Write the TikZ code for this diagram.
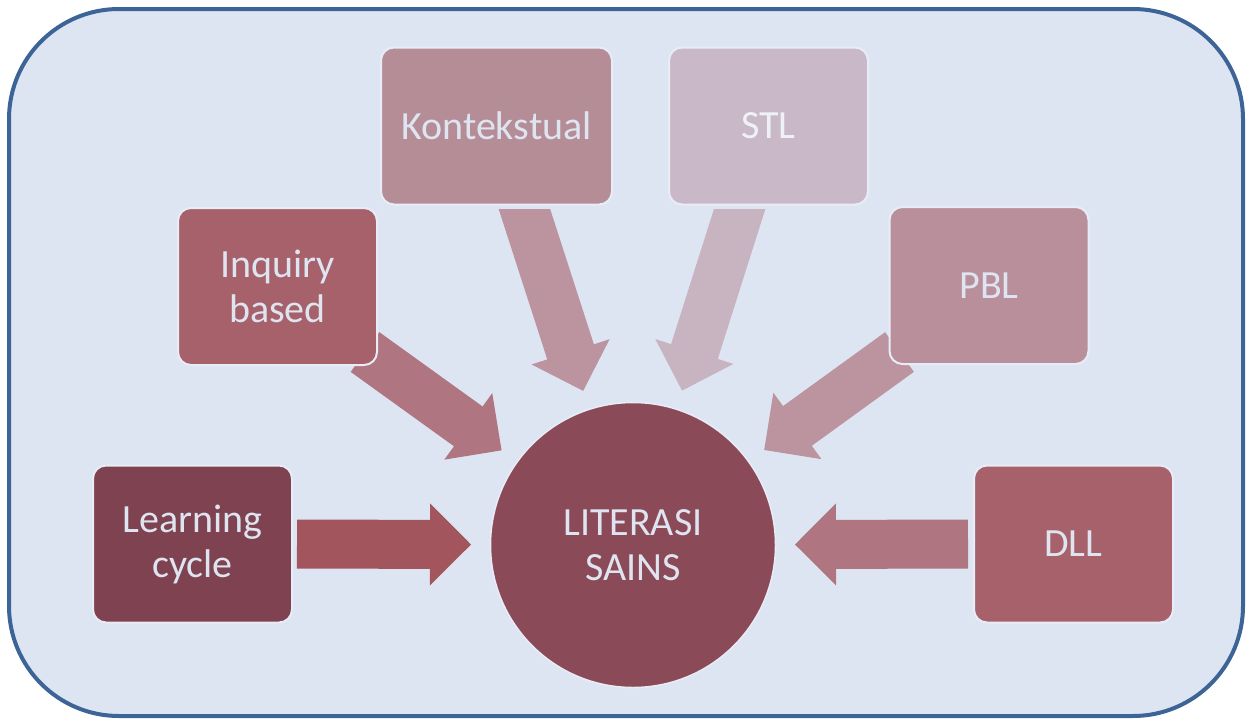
\documentclass[tikz,border=0pt]{standalone}
\usepackage{fontspec}
\setmainfont{Carlito}
\usetikzlibrary{calc}

\definecolor{frameblue}{HTML}{3D6496}
\definecolor{panel}{HTML}{DEE5F2}
\definecolor{rim}{HTML}{E8ECF6}
\definecolor{ink}{HTML}{DFE4F1}
\definecolor{inklight}{HTML}{EEF1F8}
\definecolor{cLC}{HTML}{7E4250}
\definecolor{cIB}{HTML}{A6616B}
\definecolor{cKT}{HTML}{B58D97}
\definecolor{cST}{HTML}{C9B9C8}
\definecolor{cPB}{HTML}{B88F9A}
\definecolor{cDL}{HTML}{A6616B}
\definecolor{cCI}{HTML}{8B4A57}
\definecolor{aLC}{HTML}{A3555E}
\definecolor{aIB}{HTML}{AF7580}
\definecolor{aKT}{HTML}{BB949F}
\definecolor{aST}{HTML}{C8B3C1}
\definecolor{aPB}{HTML}{BB949F}
\definecolor{aDL}{HTML}{AF7580}

\pgfdeclarelayer{panellayer}
\pgfdeclarelayer{arrowlayer}
\pgfsetlayers{panellayer,arrowlayer,main}

% block arrow from tail coordinate #1 to tip coordinate #2, filled with #3
\newcommand\blockarrow[3]{%
  \coordinate (hb) at ($(#2)!41pt!(#1)$);
  \fill[#3] ($(#1)!24.5pt!90:(#2)$) -- ($(hb)!24.5pt!90:(#2)$)
    -- ($(hb)!41pt!90:(#2)$) -- (#2) -- ($(hb)!41pt!-90:(#2)$)
    -- ($(hb)!24.5pt!-90:(#2)$) -- ($(#1)!24.5pt!-90:(#2)$) -- cycle;
}

\begin{document}
\begin{tikzpicture}[x=1pt,y=-1pt,
  card/.style={draw=rim, line width=2pt, rounded corners=13pt, text=ink,
    align=center, font=\fontsize{40}{45}\selectfont,
    minimum width=199pt, minimum height=157pt, inner sep=0pt},
  hub/.style={circle, draw=rim, line width=1.5pt, fill=cCI, text=ink,
    align=center, font=\fontsize{40}{45}\selectfont,
    minimum size=285pt, inner sep=0pt}]
\useasboundingbox (0,0) rectangle (1252,720);

\begin{pgfonlayer}{panellayer}
  \draw[line width=4pt, draw=frameblue, fill=panel, rounded corners=110pt]
    (9,9) rectangle (1243,716);
\end{pgfonlayer}

% the approaches
\node[card, fill=cLC] (lc) at (192.5,544) {Learning\\cycle};
\node[card, fill=cIB] (ib) at (277.5,286.5) {Inquiry\\based};
\node[card, fill=cKT, minimum width=231pt] (kt) at (496.5,126) {Kontekstual};
\node[card, fill=cST, text=inklight] (stl) at (768.5,126) {STL};
\node[card, fill=cPB, text depth=0pt] (pbl) at (989,285.5) {PBL};
\node[card, fill=cDL, text depth=0pt] (dll) at (1073.5,544) {DLL};

% the goal
\node[hub] (lit) at (633,545) {LITERASI\\SAINS};

% arrow ends
\coordinate (lcTail) at ($(lc.east)+(4,0)$);
\coordinate (dlTail) at ($(dll.west)+(-5,0)$);
\coordinate (ibTail) at ($(ib.south east)+(-13,-14)$);
\coordinate (pbTail) at ($(pbl.south west)+(11,-13)$);
\coordinate (ktTail) at ($(kt.south)+(24.5,-7)$);
\coordinate (stTail) at ($(stl.south)+(-25.5,-7)$);
\foreach \t in {lc,dl,ib,pb,kt,st}
  \coordinate (\t Tip) at ($(lit.center)!162pt!(\t Tail)$);
\coordinate (cutTop) at ($(kt.south)+(0,4)$);

\begin{pgfonlayer}{arrowlayer}
  \blockarrow{lcTail}{lcTip}{aLC}
  \blockarrow{dlTail}{dlTip}{aDL}
  \blockarrow{ibTail}{ibTip}{aIB}
  \blockarrow{pbTail}{pbTip}{aPB}
  \begin{scope}
    \clip (0,0 |- cutTop) rectangle (1252,720);
    \blockarrow{ktTail}{ktTip}{aKT}
    \blockarrow{stTail}{stTip}{aST}
  \end{scope}
\end{pgfonlayer}
\end{tikzpicture}
\end{document}
